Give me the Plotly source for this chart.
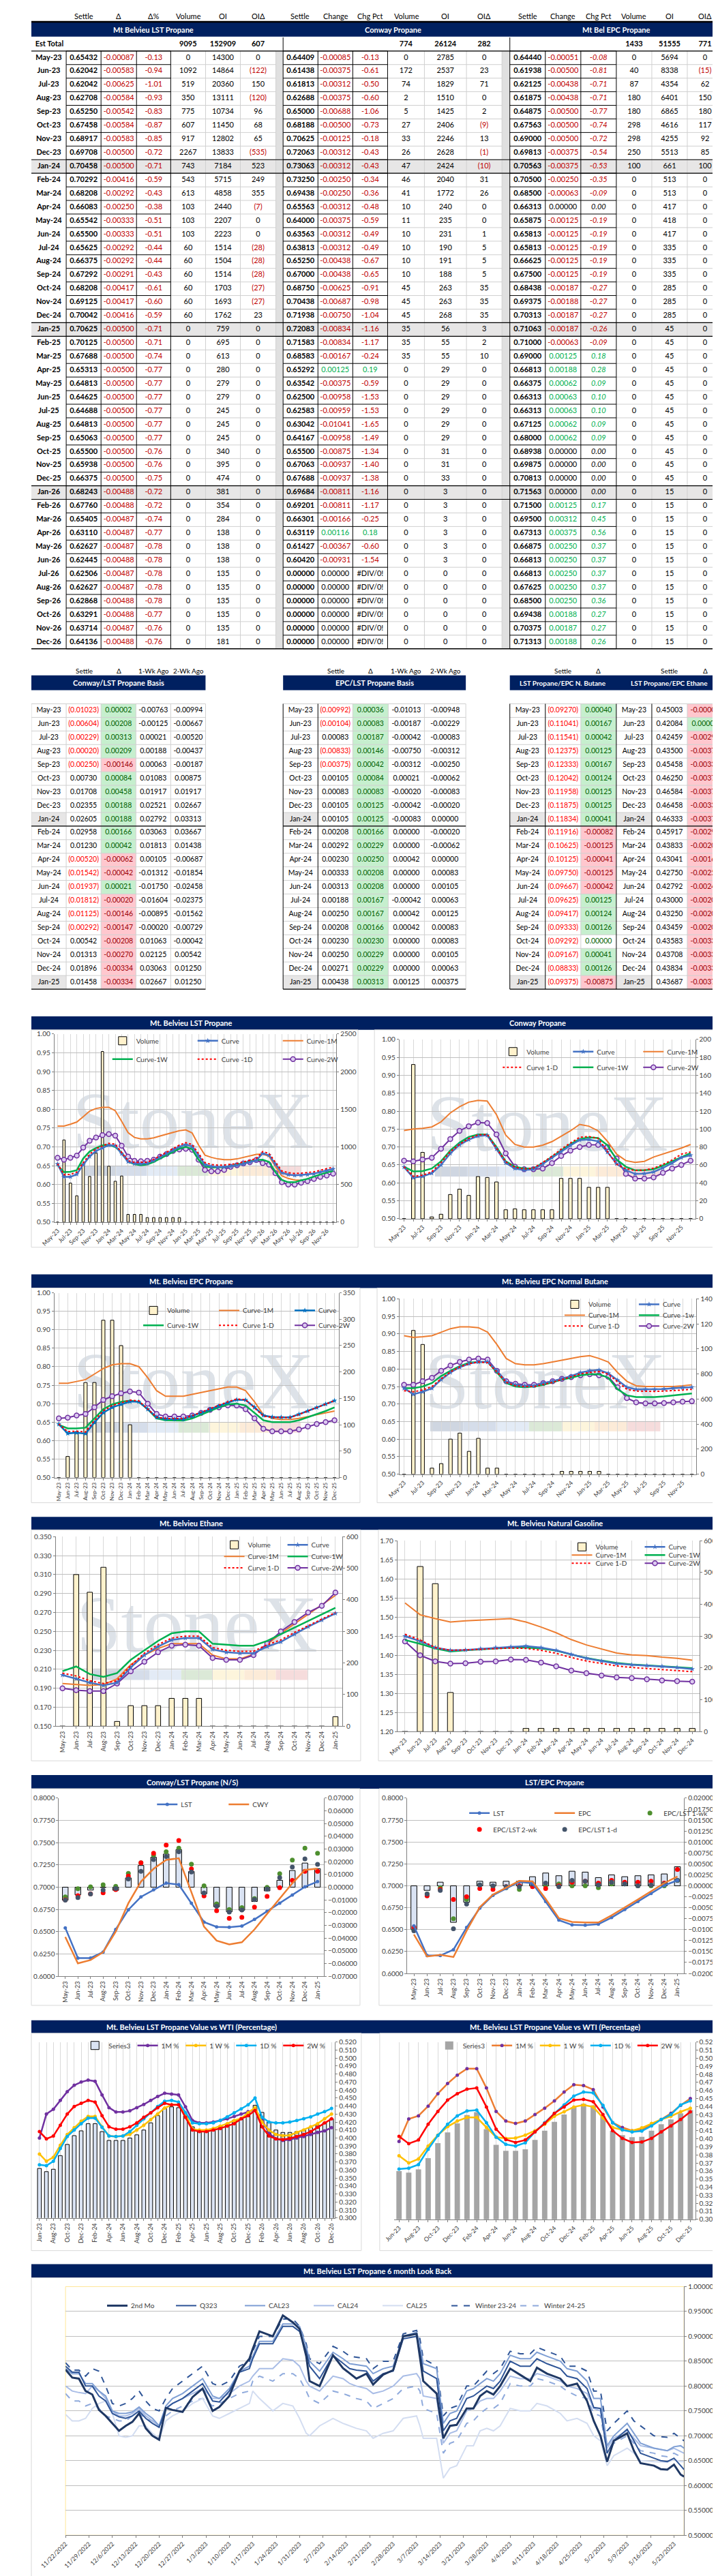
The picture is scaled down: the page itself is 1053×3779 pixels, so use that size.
import plotly.graph_objects as go
import pandas as pd

W, H = 1053, 3779
FONT = "Lato"
NAVY = "#002060"
RED = "#c00000"
GREEN = "#00b050"
JANFILL = "#e7e6e6"
AXC = "#808080"
TXT = "#404040"

months = list(pd.date_range("2023-05-01", "2026-12-01", freq="MS").strftime("%b-%y"))

# ---------------- futures tables ----------------
lst_est = [9095, 152909, 607]
lst_settle = [0.65432, 0.62042, 0.62042, 0.62708, 0.65250, 0.67458, 0.68917, 0.69708, 0.70458, 0.70292,
              0.68208, 0.66083, 0.65542, 0.65500, 0.65625, 0.66375, 0.67292, 0.68208, 0.69125, 0.70042,
              0.70625, 0.70125, 0.67688, 0.65313, 0.64813, 0.64625, 0.64688, 0.64813, 0.65063, 0.65500,
              0.65938, 0.66375, 0.68243, 0.67760, 0.65405, 0.63110, 0.62627, 0.62445, 0.62506, 0.62627,
              0.62868, 0.63291, 0.63714, 0.64136]
lst_chg = [-0.00087, -0.00583, -0.00625, -0.00584, -0.00542, -0.00584, -0.00583, -0.00500, -0.00500, -0.00416,
           -0.00292, -0.00250, -0.00333, -0.00333, -0.00292, -0.00292, -0.00291, -0.00417, -0.00417, -0.00416,
           -0.00500, -0.00500, -0.00500, -0.00500, -0.00500, -0.00500, -0.00500, -0.00500, -0.00500, -0.00500,
           -0.00500, -0.00500, -0.00488, -0.00488, -0.00487, -0.00487, -0.00487, -0.00488, -0.00487, -0.00487,
           -0.00488, -0.00488, -0.00487, -0.00488]
lst_pct = [-0.13, -0.94, -1.01, -0.93, -0.83, -0.87, -0.85, -0.72, -0.71, -0.59,
           -0.43, -0.38, -0.51, -0.51, -0.44, -0.44, -0.43, -0.61, -0.60, -0.59,
           -0.71, -0.71, -0.74, -0.77, -0.77, -0.77, -0.77, -0.77, -0.77, -0.76,
           -0.76, -0.75, -0.72, -0.72, -0.74, -0.77, -0.78, -0.78, -0.78, -0.78,
           -0.78, -0.77, -0.76, -0.76]
lst_vol = [0, 1092, 519, 350, 775, 607, 917, 2267, 743, 543,
           613, 103, 103, 103, 60, 60, 60, 60, 60, 60,
           0, 0, 0, 0, 0, 0, 0, 0, 0, 0,
           0, 0, 0, 0, 0, 0, 0, 0, 0, 0,
           0, 0, 0, 0]
lst_oi = [14300, 14864, 20360, 13111, 10734, 11450, 12802, 13833, 7184, 5715,
          4858, 2440, 2207, 2223, 1514, 1504, 1514, 1703, 1693, 1762,
          759, 695, 613, 280, 279, 279, 245, 245, 245, 340,
          395, 474, 381, 354, 284, 138, 138, 138, 135, 135,
          135, 135, 135, 181]
lst_oid = [0, -122, 150, -120, 96, 68, 65, -535, 523, 249,
           355, -7, 0, 0, -28, -28, -28, -27, -27, 23,
           0, 0, 0, 0, 0, 0, 0, 0, 0, 0,
           0, 0, 0, 0, 0, 0, 0, 0, 0, 0,
           0, 0, 0, 0]

cwy_est = [774, 26124, 282]
cwy_settle = [0.64409, 0.61438, 0.61813, 0.62688, 0.65000, 0.68188, 0.70625, 0.72063, 0.73063, 0.73250,
              0.69438, 0.65563, 0.64000, 0.63563, 0.63813, 0.65250, 0.67000, 0.68750, 0.70438, 0.71938,
              0.72083, 0.71583, 0.68583, 0.65292, 0.63542, 0.62500, 0.62583, 0.63042, 0.64167, 0.65500,
              0.67063, 0.67688, 0.69684, 0.69201, 0.66301, 0.63119, 0.61427, 0.60420, 0.0, 0.0,
              0.0, 0.0, 0.0, 0.0]
cwy_chg = [-0.00085, -0.00375, -0.00312, -0.00375, -0.00688, -0.00500, -0.00125, -0.00312, -0.00312, -0.00250,
           -0.00250, -0.00312, -0.00375, -0.00312, -0.00312, -0.00438, -0.00438, -0.00625, -0.00687, -0.00750,
           -0.00834, -0.00834, -0.00167, 0.00125, -0.00375, -0.00958, -0.00959, -0.01041, -0.00958, -0.00875,
           -0.00937, -0.00937, -0.00811, -0.00811, -0.00166, 0.00116, -0.00367, -0.00931, 0.0, 0.0,
           0.0, 0.0, 0.0, 0.0]
cwy_pct = [-0.13, -0.61, -0.50, -0.60, -1.06, -0.73, -0.18, -0.43, -0.43, -0.34,
           -0.36, -0.48, -0.59, -0.49, -0.49, -0.67, -0.65, -0.91, -0.98, -1.04,
           -1.16, -1.17, -0.24, 0.19, -0.59, -1.53, -1.53, -1.65, -1.49, -1.34,
           -1.40, -1.38, -1.16, -1.17, -0.25, 0.18, -0.60, -1.54, None, None,
           None, None, None, None]
cwy_vol = [0, 172, 74, 2, 5, 27, 33, 26, 47, 46,
           41, 10, 11, 10, 10, 10, 10, 45, 45, 45,
           35, 35, 35, 0, 0, 0, 0, 0, 0, 0,
           0, 0, 0, 0, 0, 0, 0, 0, 0, 0,
           0, 0, 0, 0]
cwy_oi = [2785, 2537, 1829, 1510, 1425, 2406, 2246, 2628, 2424, 2040,
          1772, 240, 235, 231, 190, 191, 188, 263, 263, 268,
          56, 55, 55, 29, 29, 29, 29, 29, 29, 31,
          31, 33, 3, 3, 3, 3, 3, 3, 0, 0,
          0, 0, 0, 0]
cwy_oid = [0, 23, 71, 0, 2, -9, 13, -1, -10, 31,
           26, 0, 0, 1, 5, 5, 5, 35, 35, 35,
           3, 2, 10, 0, 0, 0, 0, 0, 0, 0,
           0, 0, 0, 0, 0, 0, 0, 0, 0, 0,
           0, 0, 0, 0]

epc_est = [1433, 51555, 771]
epc_settle = [0.64440, 0.61938, 0.62125, 0.61875, 0.64875, 0.67563, 0.69000, 0.69813, 0.70563, 0.70500,
              0.68500, 0.66313, 0.65875, 0.65813, 0.65813, 0.66625, 0.67500, 0.68438, 0.69375, 0.70313,
              0.71063, 0.71000, 0.69000, 0.66813, 0.66375, 0.66313, 0.66313, 0.67125, 0.68000, 0.68938,
              0.69875, 0.70813, 0.71563, 0.71500, 0.69500, 0.67313, 0.66875, 0.66813, 0.66813, 0.67625,
              0.68500, 0.69438, 0.70375, 0.71313]
epc_chg = [-0.00051, -0.00500, -0.00438, -0.00438, -0.00500, -0.00500, -0.00500, -0.00375, -0.00375, -0.00250,
           -0.00063, 0.00000, -0.00125, -0.00125, -0.00125, -0.00125, -0.00125, -0.00187, -0.00188, -0.00187,
           -0.00187, -0.00063, 0.00125, 0.00188, 0.00062, 0.00063, 0.00063, 0.00062, 0.00062, 0.00000,
           0.00000, 0.00000, 0.00000, 0.00125, 0.00312, 0.00375, 0.00250, 0.00250, 0.00250, 0.00250,
           0.00250, 0.00188, 0.00187, 0.00188]
epc_pct = [-0.08, -0.81, -0.71, -0.71, -0.77, -0.74, -0.72, -0.54, -0.53, -0.35,
           -0.09, 0.00, -0.19, -0.19, -0.19, -0.19, -0.19, -0.27, -0.27, -0.27,
           -0.26, -0.09, 0.18, 0.28, 0.09, 0.10, 0.10, 0.09, 0.09, 0.00,
           0.00, 0.00, 0.00, 0.17, 0.45, 0.56, 0.37, 0.37, 0.37, 0.37,
           0.36, 0.27, 0.27, 0.26]
epc_vol = [0, 40, 87, 180, 180, 298, 298, 250, 100, 0,
           0, 0, 0, 0, 0, 0, 0, 0, 0, 0,
           0, 0, 0, 0, 0, 0, 0, 0, 0, 0,
           0, 0, 0, 0, 0, 0, 0, 0, 0, 0,
           0, 0, 0, 0]
epc_oi = [5694, 8338, 4354, 6401, 6865, 4616, 4255, 5513, 661, 513,
          513, 417, 418, 417, 335, 335, 335, 285, 285, 285,
          45, 45, 45, 45, 45, 45, 45, 45, 45, 45,
          45, 45, 15, 15, 15, 15, 15, 15, 15, 15,
          15, 15, 15, 15]
epc_oid = [0, -15, 62, 150, 180, 117, 92, 85, 100, 0,
           0, 0, 0, 0, 0, 0, 0, 0, 0, 0,
           0, 0, 0, 0, 0, 0, 0, 0, 0, 0,
           0, 0, 0, 0, 0, 0, 0, 0, 0, 0,
           0, 0, 0, 0]

# ---------------- basis tables (May-23 .. Jan-25) ----------------
cl_settle = [-0.01023, -0.00604, -0.00229, -0.00020, -0.00250, 0.00730, 0.01708, 0.02355, 0.02605, 0.02958,
             0.01230, -0.00520, -0.01542, -0.01937, -0.01812, -0.01125, -0.00292, 0.00542, 0.01313, 0.01896,
             0.01458]
cl_delta = [0.00002, 0.00208, 0.00313, 0.00209, -0.00146, 0.00084, 0.00458, 0.00188, 0.00188, 0.00166,
            0.00042, -0.00062, -0.00042, 0.00021, -0.00020, -0.00146, -0.00147, -0.00208, -0.00270, -0.00334,
            -0.00334]
cl_wk1 = [-0.00763, -0.00125, 0.00021, 0.00188, 0.00063, 0.01083, 0.01917, 0.02521, 0.02792, 0.03063,
          0.01813, 0.00105, -0.01312, -0.01750, -0.01604, -0.00895, -0.00020, 0.01063, 0.02125, 0.03063,
          0.02667]
cl_wk2 = [-0.00994, -0.00667, -0.00520, -0.00437, -0.00187, 0.00875, 0.01917, 0.02667, 0.03313, 0.03667,
          0.01438, -0.00687, -0.01854, -0.02458, -0.02375, -0.01562, -0.00729, -0.00042, 0.00542, 0.01250,
          0.01250]

el_settle = [-0.00992, -0.00104, 0.00083, -0.00833, -0.00375, 0.00105, 0.00083, 0.00105, 0.00105, 0.00208,
             0.00292, 0.00230, 0.00333, 0.00313, 0.00188, 0.00250, 0.00208, 0.00230, 0.00250, 0.00271,
             0.00438]
el_delta = [0.00036, 0.00083, 0.00187, 0.00146, 0.00042, 0.00084, 0.00083, 0.00125, 0.00125, 0.00166,
            0.00229, 0.00250, 0.00208, 0.00208, 0.00167, 0.00167, 0.00166, 0.00230, 0.00229, 0.00229,
            0.00313]
el_wk1 = [-0.01013, -0.00187, -0.00042, -0.00750, -0.00312, 0.00021, -0.00020, -0.00042, -0.00083, 0.00000,
          0.00000, 0.00042, 0.00000, 0.00000, -0.00042, 0.00042, 0.00042, 0.00000, 0.00000, 0.00000,
          0.00125]
el_wk2 = [-0.00948, -0.00229, -0.00083, -0.00312, -0.00250, -0.00062, -0.00083, -0.00020, 0.00000, -0.00020,
          -0.00062, 0.00000, 0.00083, 0.00105, 0.00063, 0.00125, 0.00083, 0.00083, 0.00105, 0.00063,
          0.00375]

bu_settle = [-0.09270, -0.11041, -0.11541, -0.12375, -0.12333, -0.12042, -0.11958, -0.11875, -0.11834, -0.11916,
             -0.10625, -0.10125, -0.09750, -0.09667, -0.09625, -0.09417, -0.09333, -0.09292, -0.09167, -0.08833,
             -0.09375]
bu_delta = [0.00040, 0.00167, 0.00042, 0.00125, 0.00167, 0.00124, 0.00125, 0.00125, 0.00041, -0.00082,
            -0.00125, -0.00041, -0.00125, -0.00042, 0.00125, 0.00124, 0.00126, 0.00000, 0.00041, 0.00126,
            -0.00875]
et_settle = [0.45003, 0.42084, 0.42459, 0.43500, 0.45458, 0.46250, 0.46584, 0.46458, 0.46333, 0.45917,
             0.43833, 0.43041, 0.42750, 0.42792, 0.43000, 0.43250, 0.43459, 0.43583, 0.43708, 0.43834,
             0.43687]
et_delta = [-0.00007, 0.00001, -0.00291, -0.00375, -0.00334, -0.00375, -0.00374, -0.00333, -0.00375, -0.00291,
            -0.00209, -0.00167, -0.00250, -0.00249, -0.00209, -0.00209, -0.00207, -0.00334, -0.00334, -0.00332,
            -0.00375]

# ---------------- chart curves ----------------
lst_1m = [0.755, 0.755, 0.760, 0.766, 0.780, 0.795, 0.802, 0.805, 0.805, 0.796,
          0.768, 0.738, 0.725, 0.721, 0.721, 0.724, 0.729, 0.734, 0.738, 0.743,
          0.745, 0.737, 0.705, 0.678, 0.672, 0.668, 0.666, 0.666, 0.668, 0.672,
          0.676, 0.680, 0.681, 0.675, 0.648, 0.623, 0.616, 0.612, 0.611]
lst_1w = [0.651, 0.633, 0.634, 0.638, 0.669, 0.6875, 0.697, 0.704, 0.7055, 0.700,
          0.685, 0.660, 0.654, 0.651, 0.653, 0.660, 0.669, 0.678, 0.6875, 0.695,
          0.700, 0.694, 0.666, 0.648, 0.645, 0.645, 0.646, 0.649, 0.653, 0.657,
          0.661, 0.665, 0.666, 0.660, 0.633, 0.612, 0.606, 0.606, 0.611, 0.615,
          0.621, 0.627, 0.632, 0.636]
lst_2w = [0.671, 0.666, 0.671, 0.677, 0.698, 0.716, 0.725, 0.731, 0.734, 0.730,
          0.703, 0.674, 0.663, 0.662, 0.663, 0.666, 0.674, 0.681, 0.689, 0.693,
          0.695, 0.692, 0.666, 0.639, 0.635, 0.635, 0.639, 0.647, 0.651, 0.656,
          0.659, 0.665, 0.657, 0.653, 0.630, 0.606, 0.600, 0.600, 0.605, 0.609,
          0.615, 0.620, 0.624, 0.629]

cwy_1m = [0.746, 0.750, 0.752, 0.756, 0.770, 0.795, 0.812, 0.825, 0.830, 0.828,
          0.790, 0.733, 0.707, 0.700, 0.700, 0.705, 0.715, 0.730, 0.745, 0.763,
          0.758, 0.745, 0.716, 0.680, 0.662, 0.657, 0.660, 0.672, 0.680, 0.688,
          0.697, 0.707]
cwy_1w = [0.645, 0.632, 0.633, 0.640, 0.660, 0.690, 0.712, 0.728, 0.735, 0.735,
          0.700, 0.660, 0.645, 0.640, 0.640, 0.655, 0.672, 0.690, 0.708, 0.722,
          0.727, 0.725, 0.705, 0.665, 0.645, 0.635, 0.635, 0.638, 0.648, 0.660,
          0.672, 0.683]
cwy_2w = [0.662, 0.660, 0.665, 0.670, 0.695, 0.722, 0.745, 0.758, 0.768, 0.767,
          0.735, 0.682, 0.645, 0.638, 0.638, 0.640, 0.655, 0.675, 0.690, 0.700,
          0.706, 0.706, 0.700, 0.668, 0.625, 0.612, 0.612, 0.615, 0.628, 0.640,
          0.650, 0.662]

epc_1m = [0.755, 0.755, 0.760, 0.765, 0.780, 0.795, 0.805, 0.808, 0.808, 0.800,
          0.770, 0.735, 0.720, 0.720, 0.720, 0.725, 0.730, 0.735, 0.740, 0.745,
          0.745, 0.735, 0.705, 0.670, 0.660, 0.657, 0.657, 0.660, 0.665, 0.670,
          0.675, 0.680]
epc_1w = [0.643, 0.633, 0.633, 0.635, 0.660, 0.685, 0.698, 0.705, 0.708, 0.705,
          0.685, 0.660, 0.655, 0.654, 0.654, 0.660, 0.670, 0.680, 0.690, 0.698,
          0.700, 0.695, 0.675, 0.655, 0.650, 0.650, 0.650, 0.655, 0.663, 0.672,
          0.680, 0.690]
epc_2w = [0.660, 0.662, 0.668, 0.672, 0.690, 0.710, 0.720, 0.728, 0.733, 0.730,
          0.700, 0.672, 0.665, 0.665, 0.665, 0.668, 0.675, 0.683, 0.690, 0.695,
          0.695, 0.685, 0.660, 0.632, 0.625, 0.625, 0.625, 0.630, 0.638, 0.645,
          0.650, 0.655]

but_vol = [0, 1148, 1036, 48, 84, 280, 328, 182, 286, 48,
           48, 0, 0, 0, 0, 0, 0, 22, 22, 22,
           22, 22, 0, 0, 0, 0, 0, 0, 0, 0,
           0, 0]
but_curve = [0.745, 0.728, 0.735, 0.745, 0.770, 0.790, 0.805, 0.815, 0.820, 0.820,
             0.795, 0.763, 0.755, 0.752, 0.752, 0.760, 0.765, 0.772, 0.780, 0.790,
             0.795, 0.797, 0.788, 0.768, 0.748, 0.742, 0.742, 0.742, 0.743, 0.745,
             0.747, 0.748]
but_1d = [0.738, 0.735, 0.740, 0.750, 0.772, 0.792, 0.806, 0.815, 0.820, 0.818,
          0.792, 0.762, 0.752, 0.750, 0.750, 0.756, 0.762, 0.770, 0.778, 0.786,
          0.790, 0.793, 0.785, 0.763, 0.742, 0.737, 0.736, 0.736, 0.737, 0.738,
          0.740, 0.742]
but_1m = [0.895, 0.890, 0.892, 0.895, 0.905, 0.915, 0.920, 0.920, 0.918, 0.905,
          0.870, 0.830, 0.815, 0.812, 0.812, 0.815, 0.820, 0.825, 0.830, 0.835,
          0.838, 0.830, 0.820, 0.790, 0.765, 0.752, 0.750, 0.750, 0.750, 0.750,
          0.752, 0.755]
but_1w = [0.745, 0.745, 0.750, 0.760, 0.780, 0.795, 0.808, 0.818, 0.820, 0.820,
          0.790, 0.760, 0.750, 0.748, 0.750, 0.755, 0.762, 0.770, 0.775, 0.782,
          0.785, 0.785, 0.775, 0.742, 0.725, 0.720, 0.720, 0.720, 0.722, 0.725,
          0.727, 0.730]
but_2w = [0.755, 0.755, 0.765, 0.775, 0.795, 0.810, 0.820, 0.827, 0.830, 0.827,
          0.795, 0.765, 0.758, 0.755, 0.755, 0.760, 0.765, 0.772, 0.777, 0.782,
          0.785, 0.782, 0.778, 0.748, 0.717, 0.705, 0.702, 0.702, 0.703, 0.705,
          0.707, 0.708]

eth_vol = [0, 480, 424, 503, 15, 65, 65, 65, 88, 88,
           88, 0, 0, 0, 0, 0, 0, 0, 0, 0,
           30]
eth_curve = [0.204, 0.200, 0.196, 0.193, 0.196, 0.212, 0.225, 0.234, 0.241, 0.243,
             0.243, 0.231, 0.228, 0.227, 0.227, 0.234, 0.239, 0.247, 0.255, 0.262,
             0.269]
eth_1d = [0.206, 0.203, 0.198, 0.195, 0.198, 0.214, 0.227, 0.236, 0.243, 0.245,
          0.245, 0.233, 0.230, 0.229, 0.229, 0.236, 0.241, 0.249, 0.256, 0.263,
          0.270]
eth_1m = [0.195, 0.194, 0.193, 0.194, 0.200, 0.215, 0.225, 0.232, 0.237, 0.237,
          0.237, 0.225, 0.221, 0.221, 0.226, 0.236, 0.248, 0.258, 0.268, 0.278,
          0.288]
eth_1w = [0.208, 0.213, 0.205, 0.202, 0.206, 0.220, 0.230, 0.240, 0.248, 0.250,
          0.250, 0.237, 0.236, 0.235, 0.235, 0.240, 0.247, 0.254, 0.261, 0.268,
          0.275]
eth_2w = [0.190, 0.188, 0.187, 0.187, 0.195, 0.208, 0.218, 0.228, 0.235, 0.236,
          0.235, 0.222, 0.220, 0.220, 0.225, 0.237, 0.250, 0.260, 0.270, 0.277,
          0.291]

ng_vol = [0, 519, 465, 123, 0, 0, 0, 0, 10, 10,
          10, 10, 10, 10, 10, 10, 10, 10, 10, 10]
ng_curve = [1.450, 1.437, 1.420, 1.413, 1.414, 1.417, 1.420, 1.422, 1.424, 1.420,
            1.413, 1.402, 1.392, 1.385, 1.378, 1.375, 1.373, 1.371, 1.368, 1.364]
ng_1d = [1.455, 1.440, 1.420, 1.413, 1.414, 1.416, 1.418, 1.419, 1.418, 1.413,
         1.405, 1.394, 1.385, 1.378, 1.372, 1.368, 1.365, 1.363, 1.360, 1.357]
ng_1m = [1.537, 1.506, 1.496, 1.487, 1.490, 1.492, 1.494, 1.496, 1.487, 1.474,
         1.459, 1.441, 1.427, 1.416, 1.406, 1.401, 1.399, 1.395, 1.392, 1.387]
ng_1w = [1.440, 1.430, 1.418, 1.410, 1.413, 1.416, 1.418, 1.420, 1.420, 1.418,
         1.412, 1.402, 1.393, 1.386, 1.380, 1.376, 1.374, 1.372, 1.369, 1.366]
ng_2w = [1.436, 1.400, 1.384, 1.378, 1.379, 1.383, 1.384, 1.389, 1.388, 1.381,
         1.371, 1.360, 1.353, 1.347, 1.342, 1.340, 1.337, 1.334, 1.332, 1.331]

# value vs WTI (%), Jun-23 .. Dec-26 and Jun-23 .. Dec-25
wti_bar_a = [0.362, 0.358, 0.361, 0.378, 0.392, 0.403, 0.409, 0.418, 0.418, 0.408,
             0.397, 0.397, 0.397, 0.400, 0.404, 0.410, 0.419, 0.428, 0.437, 0.439,
             0.438, 0.428, 0.414, 0.410, 0.410, 0.412, 0.415, 0.418, 0.422, 0.424,
             0.432, 0.441, 0.432, 0.420, 0.410, 0.407, 0.407, 0.408, 0.410, 0.413,
             0.416, 0.419, 0.424]
wti_1m_a = [0.400, 0.430, 0.436, 0.447, 0.458, 0.466, 0.470, 0.4725, 0.471, 0.454,
            0.438, 0.4325, 0.4325, 0.434, 0.438, 0.442, 0.447, 0.452, 0.456, 0.455,
            0.454, 0.439, 0.422, 0.419, 0.419, 0.420, 0.422, 0.424, 0.427, 0.430,
            0.433, 0.4355, 0.423, 0.406, 0.399, 0.397, 0.398, 0.400, 0.402, 0.4045,
            0.407, 0.409, 0.413]
wti_1w_a = [0.380, 0.371, 0.376, 0.391, 0.4045, 0.413, 0.421, 0.427, 0.427, 0.414,
            0.4025, 0.402, 0.4025, 0.4045, 0.410, 0.416, 0.423, 0.430, 0.4375, 0.4415,
            0.4415, 0.430, 0.411, 0.410, 0.410, 0.412, 0.415, 0.418, 0.422, 0.4245,
            0.4315, 0.438, 0.420, 0.410, 0.4045, 0.403, 0.4035, 0.407, 0.410, 0.414,
            0.418, 0.424, 0.430]
wti_1d_a = [0.3665, 0.3655, 0.371, 0.387, 0.402, 0.410, 0.418, 0.425, 0.425, 0.4135,
            0.4025, 0.402, 0.4025, 0.408, 0.416, 0.424, 0.4315, 0.4395, 0.446, 0.447,
            0.445, 0.4315, 0.419, 0.418, 0.418, 0.419, 0.422, 0.4265, 0.4315, 0.4365,
            0.4415, 0.450, 0.426, 0.420, 0.419, 0.419, 0.420, 0.422, 0.424, 0.4265,
            0.430, 0.433, 0.437]
wti_2w_a = [0.408, 0.399, 0.4025, 0.416, 0.430, 0.4395, 0.4435, 0.447, 0.445, 0.428,
            0.414, 0.411, 0.411, 0.414, 0.419, 0.426, 0.4315, 0.438, 0.4435, 0.4415,
            0.4415, 0.426, 0.410, 0.408, 0.408, 0.410, 0.412, 0.415, 0.418, 0.424,
            0.428, 0.4345, 0.414, 0.4025, 0.399, 0.398, 0.3995, 0.402, 0.4045, 0.408,
            0.4135, 0.419, 0.424]
wti_bar_b = [0.360, 0.358, 0.362, 0.376, 0.3945, 0.408, 0.419, 0.4295, 0.433, 0.412,
             0.3925, 0.385, 0.385, 0.387, 0.3985, 0.410, 0.421, 0.430, 0.4395, 0.4435,
             0.4415, 0.428, 0.410, 0.4045, 0.402, 0.4025, 0.410, 0.418, 0.424, 0.4315,
             0.4355]
wti_1m_b = [0.3967, 0.4245, 0.4285, 0.4405, 0.456, 0.4685, 0.479, 0.487, 0.487, 0.463,
            0.434, 0.422, 0.419, 0.422, 0.430, 0.438, 0.447, 0.458, 0.467, 0.466,
            0.461, 0.4395, 0.420, 0.414, 0.410, 0.411, 0.418, 0.424, 0.4315, 0.4415,
            0.450]
wti_1w_b = [0.379, 0.370, 0.375, 0.391, 0.4045, 0.415, 0.422, 0.4265, 0.4265, 0.414,
            0.402, 0.4005, 0.401, 0.4045, 0.410, 0.418, 0.428, 0.4335, 0.4395, 0.442,
            0.4395, 0.426, 0.414, 0.411, 0.410, 0.4135, 0.419, 0.424, 0.428, 0.4335,
            0.438]
wti_1d_b = [0.3625, 0.3635, 0.368, 0.387, 0.404, 0.418, 0.4285, 0.4345, 0.4355, 0.420,
            0.402, 0.393, 0.391, 0.395, 0.4085, 0.420, 0.4315, 0.442, 0.453, 0.458,
            0.457, 0.4415, 0.420, 0.411, 0.4085, 0.4095, 0.416, 0.424, 0.430, 0.442,
            0.447]
wti_2w_b = [0.403, 0.394, 0.3985, 0.418, 0.434, 0.448, 0.456, 0.4615, 0.463, 0.4395,
            0.412, 0.399, 0.3955, 0.3985, 0.4085, 0.419, 0.4315, 0.4395, 0.448, 0.449,
            0.446, 0.430, 0.410, 0.4005, 0.3955, 0.396, 0.4005, 0.4085, 0.416, 0.424,
            0.4335]

# 6 month look back: days after 11/22/2022
lb_day = [0, 2, 4, 6, 8, 10, 12, 14, 16, 18,
          20, 22, 24, 26, 28, 30, 32, 35, 38, 41,
          44, 46, 49, 52, 55, 56, 58, 62, 65, 68,
          70, 72, 73, 76, 80, 83, 85, 87, 90, 92,
          95, 98, 101, 105, 106, 107, 111, 113, 115, 117,
          120, 122, 124, 126, 128, 130, 133, 136, 139, 141,
          144, 148, 150, 153, 156, 158, 160, 162, 164, 168,
          170, 172, 176, 178, 180, 182, 184, 185]
lb_2nd = [0.833, 0.817, 0.815, 0.790, 0.783, 0.752, 0.740, 0.725, 0.710, 0.720,
          0.728, 0.745, 0.715, 0.700, 0.692, 0.756, 0.752, 0.748, 0.778, 0.795,
          0.750, 0.758, 0.780, 0.830, 0.855, 0.875, 0.910, 0.900, 0.942, 0.928,
          0.915, 0.860, 0.810, 0.800, 0.862, 0.836, 0.826, 0.815, 0.825, 0.803,
          0.823, 0.832, 0.900, 0.905, 0.858, 0.810, 0.785, 0.695, 0.720, 0.722,
          0.755, 0.755, 0.780, 0.790, 0.783, 0.800, 0.835, 0.822, 0.810, 0.837,
          0.825, 0.815, 0.800, 0.805, 0.770, 0.730, 0.700, 0.648, 0.690, 0.705,
          0.670, 0.645, 0.640, 0.633, 0.632, 0.642, 0.622, 0.618]
lb_q323 = [0.840, 0.828, 0.828, 0.800, 0.800, 0.780, 0.770, 0.745, 0.738, 0.735,
           0.740, 0.750, 0.735, 0.725, 0.717, 0.755, 0.765, 0.775, 0.790, 0.805,
           0.770, 0.768, 0.790, 0.828, 0.835, 0.855, 0.885, 0.885, 0.920, 0.920,
           0.910, 0.870, 0.840, 0.815, 0.862, 0.845, 0.835, 0.832, 0.830, 0.810,
           0.825, 0.830, 0.895, 0.900, 0.870, 0.830, 0.815, 0.710, 0.730, 0.735,
           0.775, 0.780, 0.790, 0.800, 0.795, 0.810, 0.850, 0.840, 0.840, 0.855,
           0.845, 0.835, 0.820, 0.815, 0.795, 0.757, 0.755, 0.665, 0.690, 0.713,
           0.690, 0.665, 0.655, 0.650, 0.648, 0.655, 0.640, 0.632]
lb_cal23 = [0.835, 0.825, 0.825, 0.805, 0.805, 0.790, 0.780, 0.750, 0.745, 0.745,
            0.748, 0.758, 0.745, 0.735, 0.720, 0.760, 0.775, 0.785, 0.800, 0.815,
            0.780, 0.775, 0.795, 0.830, 0.840, 0.860, 0.890, 0.890, 0.925, 0.925,
            0.920, 0.880, 0.850, 0.830, 0.868, 0.855, 0.845, 0.843, 0.840, 0.825,
            0.835, 0.840, 0.900, 0.908, 0.885, 0.845, 0.835, 0.725, 0.745, 0.750,
            0.790, 0.795, 0.805, 0.815, 0.810, 0.825, 0.862, 0.855, 0.855, 0.868,
            0.860, 0.850, 0.835, 0.830, 0.810, 0.775, 0.775, 0.680, 0.700, 0.725,
            0.705, 0.685, 0.675, 0.672, 0.670, 0.678, 0.680, 0.675]
lb_cal24 = [0.800, 0.790, 0.787, 0.785, 0.800, 0.790, 0.775, 0.750, 0.740, 0.740,
            0.745, 0.755, 0.740, 0.730, 0.720, 0.755, 0.765, 0.775, 0.785, 0.795,
            0.775, 0.775, 0.785, 0.800, 0.810, 0.820, 0.835, 0.835, 0.855, 0.852,
            0.840, 0.810, 0.800, 0.790, 0.820, 0.815, 0.805, 0.800, 0.795, 0.785,
            0.790, 0.800, 0.820, 0.825, 0.815, 0.780, 0.775, 0.685, 0.705, 0.710,
            0.750, 0.755, 0.770, 0.775, 0.775, 0.790, 0.820, 0.815, 0.815, 0.825,
            0.820, 0.810, 0.800, 0.795, 0.785, 0.755, 0.750, 0.675, 0.695, 0.710,
            0.695, 0.680, 0.675, 0.672, 0.670, 0.675, 0.668, 0.665]
lb_cal25 = [0.743, 0.730, 0.730, 0.735, 0.755, 0.765, 0.770, 0.745, 0.700, 0.697,
            0.700, 0.720, 0.720, 0.705, 0.695, 0.730, 0.740, 0.750, 0.765, 0.775,
            0.740, 0.735, 0.745, 0.755, 0.765, 0.790, 0.775, 0.750, 0.765, 0.760,
            0.735, 0.705, 0.700, 0.720, 0.735, 0.725, 0.720, 0.715, 0.710, 0.695,
            0.705, 0.710, 0.735, 0.740, 0.720, 0.695, 0.695, 0.615, 0.635, 0.640,
            0.680, 0.680, 0.710, 0.715, 0.710, 0.720, 0.755, 0.750, 0.750, 0.765,
            0.760, 0.745, 0.730, 0.735, 0.725, 0.700, 0.690, 0.640, 0.660, 0.675,
            0.665, 0.650, 0.648, 0.648, 0.647, 0.652, 0.648, 0.648]
lb_w2324 = [0.847, 0.832, 0.832, 0.820, 0.835, 0.830, 0.800, 0.765, 0.760, 0.765,
            0.775, 0.790, 0.770, 0.755, 0.750, 0.775, 0.795, 0.810, 0.825, 0.840,
            0.805, 0.800, 0.810, 0.840, 0.850, 0.870, 0.900, 0.900, 0.935, 0.935,
            0.920, 0.885, 0.855, 0.845, 0.880, 0.870, 0.860, 0.858, 0.855, 0.835,
            0.850, 0.850, 0.905, 0.912, 0.895, 0.855, 0.840, 0.740, 0.755, 0.760,
            0.800, 0.800, 0.815, 0.830, 0.825, 0.835, 0.870, 0.865, 0.865, 0.878,
            0.870, 0.860, 0.840, 0.840, 0.830, 0.790, 0.790, 0.710, 0.725, 0.750,
            0.730, 0.720, 0.700, 0.698, 0.697, 0.705, 0.695, 0.690]
lb_w2425 = [0.785, 0.770, 0.770, 0.760, 0.765, 0.755, 0.740, 0.735, 0.730, 0.730,
            0.740, 0.745, 0.735, 0.730, 0.720, 0.740, 0.750, 0.760, 0.770, 0.775,
            0.760, 0.765, 0.775, 0.785, 0.790, 0.810, 0.820, 0.810, 0.825, 0.825,
            0.815, 0.790, 0.775, 0.765, 0.790, 0.785, 0.780, 0.775, 0.770, 0.755,
            0.765, 0.775, 0.795, 0.800, 0.790, 0.755, 0.745, 0.665, 0.685, 0.690,
            0.725, 0.730, 0.745, 0.755, 0.755, 0.765, 0.805, 0.800, 0.800, 0.815,
            0.810, 0.800, 0.790, 0.780, 0.775, 0.745, 0.740, 0.665, 0.685, 0.700,
            0.685, 0.670, 0.665, 0.660, 0.658, 0.665, 0.658, 0.655]

# =====================================================================
fig = go.Figure()
layout = {}
shapes = []
annots = []
count = {"x": 0, "y": 0, "legend": 0}


def X(px):
    return px / W


def Y(py):
    return 1 - py / H


def new_axis(kind):
    count[kind] += 1
    n = count[kind]
    return (kind if n == 1 else f"{kind}{n}"), (f"{kind}axis" if n == 1 else f"{kind}axis{n}")


def rect(x0, y0, x1, y1, fill="rgba(0,0,0,0)", line=None, lw=1, layer="below", label=None):
    s = dict(type="rect", xref="paper", yref="paper", x0=X(x0), x1=X(x1), y0=Y(y1), y1=Y(y0),
             fillcolor=fill, line=dict(color=line or "rgba(0,0,0,0)", width=lw if line else 0), layer=layer)
    if label:
        s["label"] = label
    shapes.append(s)


def seg(x0, y0, x1, y1, color="black", lw=1):
    shapes.append(dict(type="line", xref="paper", yref="paper", x0=X(x0), x1=X(x1), y0=Y(y0), y1=Y(y1),
                       line=dict(color=color, width=lw), layer="above"))


def text(x, y, s, size=11, color="black", bold=False, xanchor="center"):
    annots.append(dict(xref="paper", yref="paper", x=X(x), y=Y(y), text=f"<b>{s}</b>" if bold else s,
                       showarrow=False, xanchor=xanchor, yanchor="middle",
                       font=dict(family=FONT, size=size, color=color)))


def sign_color(v):
    if v is None or v == 0:
        return "black"
    return RED if v < 0 else GREEN


# ---------------- page axes for the spreadsheet tables (pixel units) ----------------
xt, xtk = new_axis("x")
yt, ytk = new_axis("y")
layout[xtk] = dict(domain=[0, 1], range=[0, W], visible=False, anchor=yt, fixedrange=True)
layout[ytk] = dict(domain=[0, 1], range=[H, 0], visible=False, anchor=xt, fixedrange=True)
black_segs, gray_segs = [], []


def cells(xc, ys, texts, colors="black", size=11, pos="middle center"):
    fig.add_trace(go.Scatter(x=[xc] * len(texts), y=ys, text=texts, mode="text", textposition=pos,
                             textfont=dict(family=FONT, size=size, color=colors), xaxis=xt, yaxis=yt,
                             showlegend=False, hoverinfo="skip", cliponaxis=False))


TOP_ROW0, ROWH = 60, 20
top_y = [TOP_ROW0 + ROWH * (i + 0.5) for i in range(len(months))]
top_bottom = TOP_ROW0 + ROWH * len(months)

for i, m in enumerate(months):
    if m.startswith("Jan"):
        rect(0, TOP_ROW0 + ROWH * i, W, TOP_ROW0 + ROWH * (i + 1), fill=JANFILL)


def futures_table(edges, est, settle, chg, pct, vol, oi, oid, month_col=False, italic=False):
    ctr = [(a + b) / 2 for a, b in zip(edges[:-1], edges[1:])]
    k = 0
    if month_col:
        cells(ctr[0], top_y, [f"<b>{m}</b>" for m in months])
        cells(6, [50], ["<b>Est Total</b>"], pos="middle right")
        k = 1
    pct_txt = ["#DIV/0!" if p is None else f"{p:.2f}" for p in pct]
    if italic:
        pct_txt = [f"<i>{t}</i>" for t in pct_txt]
    cells(ctr[k], top_y, [f"<b>{v:.5f}</b>" for v in settle])
    cells(ctr[k + 1], top_y, [f"{v:.5f}" for v in chg], [sign_color(v) for v in chg])
    cells(ctr[k + 2], top_y, pct_txt, [sign_color(v) for v in pct])
    cells(ctr[k + 3], top_y, [str(v) for v in vol])
    cells(ctr[k + 4], top_y, [str(v) for v in oi])
    cells(ctr[k + 5], top_y, [f"({-v})" if v < 0 else str(v) for v in oid], [RED if v < 0 else "black" for v in oid])
    cells(ctr[k + 3], [50, 50, 50], [f"<b>{v}</b>" for v in est][:1])
    cells(ctr[k + 4], [50], [f"<b>{est[1]}</b>"])
    cells(ctr[k + 5], [50], [f"<b>{est[2]}</b>"])
    for b in range(len(months) + 1):
        yy = TOP_ROW0 + ROWH * b
        black_segs.append((edges[k], yy, edges[k + 3], yy))
        gray_segs.append((edges[k + 3], yy, edges[-1], yy))
    for xv in edges[k:k + 4]:
        black_segs.append((xv, TOP_ROW0, xv, top_bottom))
    for xv in edges[k + 4:]:
        gray_segs.append((xv, TOP_ROW0, xv, top_bottom))


rect(372, 60, 383, 940, fill="#e0e0e0")
rect(716, 60, 728, 940, fill="#e0e0e0")
futures_table([0, 53, 106, 160, 212, 265, 318, 372], lst_est, lst_settle, lst_chg, lst_pct, lst_vol, lst_oi,
              lst_oid, month_col=True)
futures_table([383, 436, 489, 542, 598, 662, 716], cwy_est, cwy_settle, cwy_chg, cwy_pct, cwy_vol, cwy_oi, cwy_oid)
futures_table([728, 782, 836, 890, 944, 998, 1052], epc_est, epc_settle, epc_chg, epc_pct, epc_vol, epc_oi,
              epc_oid, italic=True)

for x, s in [(80, "Settle"), (133, "Δ"), (186, "Δ%"), (239, "Volume"), (292, "OI"), (345, "OIΔ"),
             (409, "Settle"), (463, "Change"), (516, "Chg Pct"), (571, "Volume"), (630, "OI"), (689, "OIΔ"),
             (755, "Settle"), (809, "Change"), (863, "Chg Pct"), (917, "Volume"), (971, "OI"), (1025, "OIΔ")]:
    text(x, 9, s, size=11)
seg(0, 17, W, 17, "black", 2.5)
rect(0, 18, W, 39, fill=NAVY)
text(186, 29, "Mt Belvieu LST Propane", color="white", bold=True)
text(550, 29, "Conway Propane", color="white", bold=True)
text(890, 29, "Mt Bel EPC Propane", color="white", bold=True)
seg(0, 60, W, 60, "black", 1.2)
for i, m in enumerate(months):
    if m.startswith("Jan"):
        seg(0, TOP_ROW0 + ROWH * i, W, TOP_ROW0 + ROWH * i, "black", 1.2)
        seg(0, TOP_ROW0 + ROWH * (i + 1), W, TOP_ROW0 + ROWH * (i + 1), "black", 1.2)
seg(0, top_bottom, W, top_bottom, "black", 1.5)
seg(383, 40, 383, 60, "black", 1)
seg(728, 40, 728, 60, "black", 1)

# ---------------- basis tables ----------------
bmonths = months[:21]
B_ROW0 = 1021
b_y = [B_ROW0 + ROWH * (i + 0.5) for i in range(21)]
b_bottom = B_ROW0 + ROWH * 21


def paren(v):
    return f"({abs(v):.5f})" if v < 0 else f"{v:.5f}"


def d_fill(v):
    return "#c6efce" if v > 0 else ("#ffc7ce" if v < 0 else "white")


def d_font(v):
    return "#9c0006" if v < 0 else "#006100"


def basis_table(edges, cols, black_x):
    ctr = [(a + b) / 2 for a, b in zip(edges[:-1], edges[1:])]
    for c, (kind, data) in enumerate(cols):
        if kind == "month":
            for i, m in enumerate(data):
                if m.startswith("Jan"):
                    rect(edges[c], B_ROW0 + ROWH * i, edges[c + 1], B_ROW0 + ROWH * (i + 1), fill=JANFILL)
            cells(ctr[c], b_y, list(data), size=10.5)
        elif kind == "settle":
            cells(ctr[c], b_y, [paren(v) for v in data], ["#ff0000" if v < 0 else "black" for v in data], size=10.5)
        elif kind == "delta":
            for i, v in enumerate(data):
                if v != 0:
                    rect(edges[c], B_ROW0 + ROWH * i, edges[c + 1], B_ROW0 + ROWH * (i + 1), fill=d_fill(v))
            cells(ctr[c], b_y, [f"{v:.5f}" for v in data], [d_font(v) for v in data], size=10.5)
        else:
            cells(ctr[c], b_y, [f"{v:.5f}" for v in data], size=10.5)
    for b in range(22):
        yy = B_ROW0 + ROWH * b
        gray_segs.append((edges[0], yy, edges[-1], yy))
    for xv in edges:
        (black_segs if xv in black_x else gray_segs).append((xv, B_ROW0, xv, b_bottom))


basis_table([0, 53, 106, 159, 212, 265],
            [("month", bmonths), ("settle", cl_settle), ("delta", cl_delta), ("plain", cl_wk1), ("plain", cl_wk2)],
            [])
basis_table([383, 436, 489, 543, 598, 661],
            [("month", bmonths), ("settle", el_settle), ("delta", el_delta), ("plain", el_wk1), ("plain", el_wk2)],
            [383, 436])
basis_table([728, 782, 836, 890, 944, 998, 1052],
            [("month", bmonths), ("settle", bu_settle), ("delta", bu_delta),
             ("month", bmonths), ("plain", et_settle), ("delta", et_delta)],
            [728, 782, 890, 944])

for x, s in [(80, "Settle"), (133, "Δ"), (186, "1-Wk Ago"), (239, "2-Wk Ago"),
             (463, "Settle"), (516, "Δ"), (570, "1-Wk Ago"), (630, "2-Wk Ago"),
             (809, "Settle"), (863, "Δ"), (971, "Settle"), (1025, "Δ")]:
    text(x, 972, s, size=10)
rect(0, 979, 265, 1001, fill=NAVY)
rect(383, 979, 661, 1001, fill=NAVY)
rect(728, 979, 1053, 1001, fill=NAVY)
text(133, 990, "Conway/LST Propane Basis", color="white", bold=True)
text(522, 990, "EPC/LST Propane Basis", color="white", bold=True)
text(809, 990, "LST Propane/EPC N. Butane", color="white", bold=True, size=10)
text(971, 990, "LST Propane/EPC Ethane", color="white", bold=True, size=10)
for xa_, xb_ in ((0, 265), (383, 661), (728, 1053)):
    seg(xa_, B_ROW0 + ROWH * 9, xb_, B_ROW0 + ROWH * 9, "black", 1.2)
    seg(xa_, b_bottom, xb_, b_bottom, "black", 1.2)


def seg_trace(segs, color, width):
    xs, ys = [], []
    for x0, y0, x1, y1 in segs:
        xs += [x0, x1, None]
        ys += [y0, y1, None]
    fig.add_trace(go.Scatter(x=xs, y=ys, mode="lines", line=dict(color=color, width=width), xaxis=xt, yaxis=yt,
                             showlegend=False, hoverinfo="skip", cliponaxis=False))


seg_trace(gray_segs, "#d0d0d0", 1)
seg_trace(black_segs, "black", 1)


# ---------------- chart frame helpers ----------------
def new_legend(x, y, ew=None, size=10):
    count["legend"] += 1
    n = count["legend"]
    name = "legend" if n == 1 else f"legend{n}"
    d = dict(x=X(x), y=Y(y), xanchor="left", yanchor="middle", orientation="h", bgcolor="rgba(0,0,0,0)",
             font=dict(family=FONT, size=size, color=TXT), itemwidth=30, tracegroupgap=0)
    if ew:
        d.update(entrywidth=ew, entrywidthmode="pixels")
    layout[name] = d
    return name


def cat_x(key, x0, x1, anchor, cats, step, angle, size=9, grid=True):
    layout[key] = dict(domain=[X(x0), X(x1)], anchor=anchor, type="category", categoryorder="array",
                       categoryarray=cats, tickmode="array", tickvals=cats,
                       ticktext=[c if i % step == 0 else "" for i, c in enumerate(cats)], tickangle=angle,
                       showgrid=grid, gridcolor="#d9d9d9", showline=True, linecolor=AXC, ticks="outside",
                       ticklen=3, tickcolor=AXC, tickfont=dict(family=FONT, size=size, color=TXT),
                       range=[-0.5, len(cats) - 0.5], zeroline=False)


def val_y(key, anchor, rng, dtick, fmt, side, grid=False, y0=None, y1=None, overlay=None, size=10):
    d = dict(anchor=anchor, range=[rng[0], rng[1] + dtick * 1e-6], dtick=dtick, tick0=rng[0], tickformat=fmt,
             side=side, showgrid=grid, gridcolor="#bfbfbf", showline=True, linecolor=AXC, ticks="outside",
             ticklen=3, tickcolor=AXC, tickfont=dict(family=FONT, size=size, color=TXT), zeroline=False)
    if overlay:
        d["overlaying"] = overlay
    else:
        d["domain"] = [Y(y1), Y(y0)]
    layout[key] = d


def title_bar(y0, y1, items):
    rect(0, y0, W, y1, fill=NAVY)
    for x, s in items:
        text(x, (y0 + y1) / 2, s, color="white", bold=True, size=11)


STRIP = ["#cfd6e1", "#d5ddea", "#e3ebf6", "#dbe9d7", "#fdf5dc", "#fcebd8", "#f6dcdc"]


def watermark(x0, y0, x1, y1, sy):
    rect(x0, y0, x1, y1, label=dict(text="StoneX", font=dict(family="Liberation Serif", size=118,
                                                                color="#dde2e8"), textposition="middle center"))
    step = (x1 - x0) / len(STRIP)
    for i, c in enumerate(STRIP):
        rect(x0 + i * step, sy, x0 + (i + 1) * step, sy + 15, fill=c)


STY = {
    "1M": dict(mode="lines", line=dict(color="#ed7d31", width=2)),
    "2W": dict(mode="lines+markers", line=dict(color="#7030a0", width=2),
               marker=dict(symbol="circle", size=7, color="#dccbf0", line=dict(color="#7030a0", width=1.5))),
    "1W": dict(mode="lines", line=dict(color="#00b050", width=2.5)),
    "C": dict(mode="lines+markers", line=dict(color="#4472c4", width=2.5),
              marker=dict(symbol="star", size=6, color="#4472c4")),
    "1D": dict(mode="lines", line=dict(color="#ff0000", width=2, dash="dot")),
}


def curve_chart(box, plot, cats, step, angle, vrng, vdt, prng, pdt, pfmt, vol, series, names, legs, xsize=9):
    xr, xk = new_axis("x")
    vr, vk = new_axis("y")
    pr, pk = new_axis("y")
    rect(*box, line="#d9d9d9")
    x0, y0, x1, y1 = plot
    cat_x(xk, x0, x1, vr, cats, step, angle, size=xsize)
    val_y(vk, xr, vrng, vdt, "d", "right", y0=y0, y1=y1)
    val_y(pk, xr, prng, pdt, pfmt, "left", grid=True, overlay=vr)
    leg_of = {}
    for lx, ly, ew, keys in legs:
        lg = new_legend(lx, ly, ew)
        for rank, k in enumerate(keys):
            leg_of[k] = (lg, rank)
    lg, rk = leg_of["V"]
    fig.add_trace(go.Bar(x=cats, y=vol, xaxis=xr, yaxis=vr, name="Volume", width=0.38,
                         marker=dict(color="#fff2cc", line=dict(color="black", width=1)), legend=lg, legendrank=rk))
    for k in ("1M", "2W", "1W", "C", "1D"):
        lg, rk = leg_of[k]
        fig.add_trace(go.Scatter(x=cats[:len(series[k])], y=series[k], xaxis=xr, yaxis=pr, name=names[k],
                                 legend=lg, legendrank=rk, **STY[k]))


# ---- Row 1
title_bar(1481, 1501, [(243, "Mt. Belvieu LST Propane"), (770, "Conway Propane")])
watermark(82, 1575, 410, 1670, 1701)
lst_1d = [s - c for s, c in zip(lst_settle, lst_chg)]
curve_chart((0, 1501, 497, 1821), (35, 1507, 464, 1784), months, 2, -45, [0, 2500], 500, [0.5, 1.0], 0.05, ".2f",
            lst_vol, {"1M": lst_1m, "2W": lst_2w, "1W": lst_1w, "C": lst_settle, "1D": lst_1d},
            {"1M": "Curve-1M", "2W": "Curve-2W", "1W": "Curve-1W", "C": "Curve", "1D": "Curve -1D"},
            [(118, 1517, 80, ["V", "C", "1M"]), (118, 1544, 80, ["1W", "1D", "2W"])])

m32 = months[:32]
watermark(614, 1581, 956, 1671, 1702)
cwy_1d = [s - c for s, c in zip(cwy_settle[:32], cwy_chg[:32])]
curve_chart((522, 1501, 1053, 1821), (560, 1515, 1010, 1779), m32, 2, -45, [0, 200], 20, [0.5, 1.0], 0.05, ".2f",
            cwy_vol[:32], {"1M": cwy_1m, "2W": cwy_2w, "1W": cwy_1w, "C": cwy_settle[:32], "1D": cwy_1d},
            {"1M": "Curve-1M", "2W": "Curve-2W", "1W": "Curve-1W", "C": "Curve", "1D": "Curve 1-D"},
            [(712, 1533, 58, ["V", "C", "1M"]), (712, 1556, 58, ["1D", "1W", "2W"])])

# ---- Row 2
title_bar(1861, 1881, [(243, "Mt. Belvieu EPC Propane"), (797, "Mt. Belvieu EPC Normal Butane")])
watermark(84, 1961, 410, 2050, 2079)
epc_1d = [s - c for s, c in zip(epc_settle[:32], epc_chg[:32])]
STY["C"] = dict(mode="lines+markers", line=dict(color="#0070c0", width=2.5),
                marker=dict(symbol="star", size=6, color="#0070c0"))
curve_chart((0, 1881, 500, 2197), (35, 1888, 468, 2160), m32, 1, -90, [0, 350], 50, [0.5, 1.0], 0.05, ".2f",
            epc_vol[:32], {"1M": epc_1m, "2W": epc_2w, "1W": epc_1w, "C": epc_settle[:32], "1D": epc_1d},
            {"1M": "Curve-1M", "2W": "Curve-2W", "1W": "Curve-1W", "C": "Curve", "1D": "Curve 1-D"},
            [(165, 1914, 66, ["V", "1M", "C"]), (165, 1936, 66, ["1W", "1D", "2W"])], xsize=8)
STY["C"] = dict(mode="lines+markers", line=dict(color="#4472c4", width=2.5),
                marker=dict(symbol="star", size=6, color="#4472c4"))

watermark(607, 1961, 957, 2050, 2077)
curve_chart((526, 1881, 1053, 2197), (560, 1897, 1012, 2155), m32, 2, -45, [0, 1400], 200, [0.5, 1.0], 0.05,
            ".2f", but_vol, {"1M": but_1m, "2W": but_2w, "1W": but_1w, "C": but_curve, "1D": but_1d},
            {"1M": "Curve-1M", "2W": "Curve-2W", "1W": "Curve -1w", "C": "Curve", "1D": "Curve 1-D"},
            [(806, 1905, 64, ["V", "C"]), (806, 1921, 64, ["1M", "1W"]), (806, 1937, 64, ["1D", "2W"])])

# ---- Row 3
title_bar(2218, 2237, [(243, "Mt. Belvieu Ethane"), (797, "Mt. Belvieu Natural Gasoline")])
watermark(84, 2316, 420, 2411, 2443)
m21 = months[:21]
curve_chart((0, 2237, 501, 2577), (37, 2247, 473, 2526), m21, 1, -90, [0, 600], 100, [0.15, 0.35], 0.02, ".3f",
            eth_vol, {"1M": eth_1m, "2W": eth_2w, "1W": eth_1w, "C": eth_curve, "1D": eth_1d},
            {"1M": "Curve-1M", "2W": "Curve-2W", "1W": "Curve-1W", "C": "Curve", "1D": "Curve 1-D"},
            [(288, 2259, 48, ["V", "C"]), (288, 2276, 48, ["1M", "1W"]), (288, 2293, 48, ["1D", "2W"])])

m20 = months[:20]
curve_chart((528, 2237, 1053, 2577), (557, 2253, 1017, 2534), m20, 1, -45, [0, 600], 100, [1.2, 1.7], 0.05, ".2f",
            ng_vol, {"1M": ng_1m, "2W": ng_2w, "1W": ng_1w, "C": ng_curve, "1D": ng_1d},
            {"1M": "Curve-1M", "2W": "Curve-2W", "1W": "Curve-1W", "C": "Curve", "1D": "Curve 1-D"},
            [(817, 2262, 62, ["V", "C"]), (817, 2274, 62, ["1M", "1W"]), (817, 2286, 62, ["1D", "2W"])])

# ---- Row 4 : spreads
title_bar(2598, 2618, [(245, "Conway/LST Propane (N/S)"), (796, "LST/EPC Propane")])


def spread_chart(box, plot, brng, bdt, basis, wk1, wk2, delta, other, other_name, legs):
    xr, xk = new_axis("x")
    br, bk = new_axis("y")
    pr, pk = new_axis("y")
    rect(*box, line="#d9d9d9")
    x0, y0, x1, y1 = plot
    cat_x(xk, x0, x1, br, m21, 1, -90, grid=False)
    val_y(bk, xr, brng, bdt, ".5f", "right", y0=y0, y1=y1)
    val_y(pk, xr, [0.6, 0.8], 0.025, ".4f", "left", grid=True, overlay=br)
    leg_of = {}
    for lx, ly, ew, keys in legs:
        lg = new_legend(lx, ly, ew)
        for rank, k in enumerate(keys):
            leg_of[k] = (lg, rank)
    fig.add_trace(go.Bar(x=m21, y=basis, xaxis=xr, yaxis=br, width=0.45, showlegend=False,
                         marker=dict(color="#dae3f3", line=dict(color="black", width=1))))
    prev_day = [s - d for s, d in zip(basis, delta)]
    for key, vals, col in (("wk1", wk1, "#4e8f2f"), ("wk2", wk2, "#ff0000"), ("d1", prev_day, "#44546a")):
        lg, rk = leg_of.get(key, ("legend", 0))
        fig.add_trace(go.Scatter(x=m21, y=vals, xaxis=xr, yaxis=br, mode="markers",
                                 name={"wk1": "EPC/LST 1-wk", "wk2": "EPC/LST 2-wk", "d1": "EPC/LST 1-d"}[key],
                                 marker=dict(color=col, size=7), showlegend=key in leg_of, legend=lg,
                                 legendrank=rk))
    lg, rk = leg_of["lst"]
    fig.add_trace(go.Scatter(x=m21, y=lst_settle[:21], xaxis=xr, yaxis=pr, mode="lines+markers", name="LST",
                             line=dict(color="#4472c4", width=2.5), marker=dict(size=5, color="#4472c4"),
                             legend=lg, legendrank=rk))
    lg, rk = leg_of["oth"]
    fig.add_trace(go.Scatter(x=m21, y=other, xaxis=xr, yaxis=pr, mode="lines", name=other_name,
                             line=dict(color="#ed7d31", width=2.5), legend=lg, legendrank=rk))


spread_chart((0, 2618, 500, 2937), (42, 2632, 445, 2894), [-0.07, 0.07], 0.01, cl_settle, cl_wk1, cl_wk2, cl_delta,
             cwy_settle[:21], "CWY", [(186, 2641, 60, ["lst", "oth"])])
spread_chart((529, 2618, 1053, 2937), (572, 2632, 993, 2890), [-0.02, 0.02], 0.0025, el_settle, el_wk1, el_wk2,
             el_delta, epc_settle[:21], "EPC",
             [(661, 2654, 80, ["lst", "oth", "wk1"]), (661, 2678, 80, ["wk2", "d1"])])

# ---- Row 5 : value vs WTI
title_bar(2959, 2978, [(244, "Mt. Belvieu LST Propane Value vs WTI (Percentage)"),
                       (797, "Mt. Belvieu LST Propane Value vs WTI (Percentage)")])


def wti_chart(box, plot, cats, angle, bars, bar_style, m1, w1, d1, w2, m1_marker, legx):
    xr, xk = new_axis("x")
    yr, yk = new_axis("y")
    rect(*box, line="#d9d9d9")
    x0, y0, x1, y1 = plot
    cat_x(xk, x0, x1, yr, cats, 2, angle, size=9)
    val_y(yk, xr, [0.30, 0.52], 0.01, ".3f", "right", y0=y0, y1=y1)
    lg = new_legend(legx, 2996)
    fig.add_trace(go.Bar(x=cats, y=bars, xaxis=xr, yaxis=yr, name="Series3", width=0.55, marker=bar_style,
                         legend=lg))
    for name, vals, col, mcol in (("1M %", m1, m1_marker[0], m1_marker[1]), ("1 W %", w1, "#ffc000", "#ffc000"),
                                  ("1D %", d1, "#00b0f0", "#00b0f0"), ("2W %", w2, "#ff0000", "#ff0000")):
        fig.add_trace(go.Scatter(x=cats, y=vals, xaxis=xr, yaxis=yr, mode="lines+markers", name=name,
                                 line=dict(color=col, width=2.5), marker=dict(size=5, color=mcol), legend=lg))


wti_chart((0, 2978, 502, 3298), (7, 2991, 462, 3250), months[1:44], -90, wti_bar_a,
          dict(color="#dae3f3", line=dict(color="black", width=1)), wti_1m_a, wti_1w_a, wti_1d_a, wti_2w_a,
          ("#7030a0", "#7030a0"), 76)
wti_chart((530, 2978, 1053, 3298), (552, 2991, 1010, 3252), months[1:32], -45, wti_bar_b,
          dict(color="#a5a5a5", line=dict(width=0)), wti_1m_b, wti_1w_b, wti_1d_b, wti_2w_b,
          ("#ed7d31", "#7030a0"), 615)

# ---- Row 6 : 6 month look back
title_bar(3318, 3338, [(526, "Mt. Belvieu LST Propane 6 month Look Back")])
rect(0, 3338, W, 3779, line="#d9d9d9")
rect(52, 3351, 993, 3717, line="#ffe699")
lb_dates = [pd.Timestamp("2022-11-22") + pd.Timedelta(days=d) for d in lb_day]
xr, xk = new_axis("x")
yr, yk = new_axis("y")
layout[xk] = dict(domain=[X(52), X(993)], anchor=yr, type="date", range=["2022-11-22", "2023-05-26"],
                  tick0="2022-11-22", dtick=7 * 86400000, tickformat="%-m/%-d/%Y", tickangle=-45,
                  showgrid=False, showline=True, linecolor=AXC, ticks="outside", ticklen=3, tickcolor=AXC,
                  tickfont=dict(family=FONT, size=9, color=TXT))
val_y(yk, xr, [0.5, 1.0], 0.05, ".5f", "right", grid=True, y0=3351, y1=3717)
lg = new_legend(110, 3379, 56)
lb_series = [("2nd Mo", lb_2nd, "#1f3864", 3, "solid"), ("Q323", lb_q323, "#2f5597", 2, "solid"),
             ("CAL23", lb_cal23, "#7f9fd4", 2, "solid"), ("CAL24", lb_cal24, "#a9bde6", 2, "solid"),
             ("CAL25", lb_cal25, "#d3ddf1", 2, "solid"), ("Winter 23-24", lb_w2324, "#2f5597", 2, "dash"),
             ("Winter 24-25", lb_w2425, "#8faadc", 2, "dash")]
for rank in range(len(lb_series) - 1, -1, -1):
    name, vals, col, wd, dash = lb_series[rank]
    fig.add_trace(go.Scatter(x=lb_dates, y=vals, xaxis=xr, yaxis=yr, mode="lines", name=name,
                             line=dict(color=col, width=wd, dash=dash), legend=lg, legendrank=rank))

fig.update_layout(width=W, height=H, margin=dict(l=0, r=0, t=0, b=0), paper_bgcolor="white",
                  plot_bgcolor="rgba(0,0,0,0)", font=dict(family=FONT), barmode="overlay", hovermode=False,
                  shapes=shapes, annotations=annots, **layout)
fig.write_html("out.html")
